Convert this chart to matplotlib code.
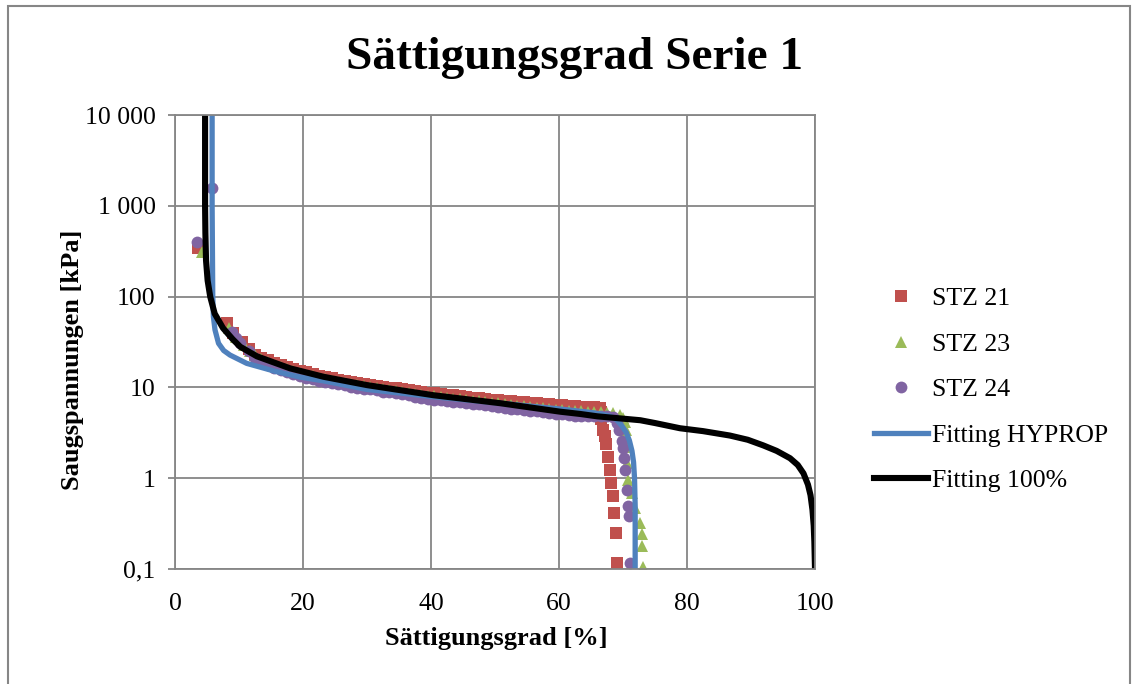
import matplotlib.pyplot as plt
from matplotlib.patches import Rectangle

plt.rcParams['font.family'] = ['Liberation Serif', 'DejaVu Serif']

# measured points: saturation [%] vs suction [kPa]
stz21_s = [3.6, 8.1, 9.1, 10.4, 11.5,
           12.5, 13.5, 14.5, 15.5, 16.5, 17.5, 18.5, 19.5, 20.5, 21.5, 22.5,
           23.5, 24.5, 25.5, 26.5, 27.5, 28.5, 29.5, 30.5, 31.5, 32.5, 33.5,
           34.5, 35.5, 36.5, 37.5, 38.5, 39.5, 40.5, 41.5, 42.5, 43.5, 44.5,
           45.5, 46.5, 47.5, 48.5, 49.5, 50.5, 51.5, 52.5, 53.5, 54.5, 55.5,
           56.5, 57.5, 58.5, 59.5, 60.5, 61.5, 62.5, 63.5, 64.5, 65.5, 66.4,
           66.5, 66.6, 66.9, 67.2, 67.4, 67.7, 68.0, 68.2, 68.5, 68.6, 68.9, 69.1]
stz21_p = [343, 50.8, 39.5, 31.8, 26.8,
           23.0, 21.2, 19.8, 18.6, 17.6, 16.7, 15.9, 15.2, 14.6, 14.0, 13.5,
           13.0, 12.6, 12.2, 11.8, 11.5, 11.2, 10.9, 10.6, 10.4, 10.2, 9.95,
           9.75, 9.55, 9.35, 9.15, 8.95, 8.75, 8.6, 8.45, 8.3, 8.15, 8.0,
           7.85, 7.7, 7.55, 7.45, 7.35, 7.25, 7.15, 7.05, 6.95, 6.85, 6.75,
           6.65, 6.55, 6.5, 6.4, 6.35, 6.3, 6.2, 6.15, 6.1, 6.05, 6.0,
           5.4, 4.5, 3.4, 2.9, 2.4, 1.7, 1.23, 0.88, 0.63, 0.41, 0.25, 0.115]

stz23_s = [4.2, 8.5, 9.5, 10.8, 11.7,
           12.5, 13.5, 14.5, 15.5, 16.5, 17.5, 18.5, 19.5, 20.5, 21.5, 22.5,
           23.5, 24.5, 25.5, 26.5, 27.5, 28.5, 29.5, 30.5, 31.5, 32.5, 33.5,
           34.5, 35.5, 36.5, 37.5, 38.5, 39.5, 40.5, 41.5, 42.5, 43.5, 44.5,
           45.5, 46.5, 47.5, 48.5, 49.5, 50.5, 51.5, 52.5, 53.5, 54.5, 55.5,
           56.5, 57.5, 58.5, 59.5, 60.5, 61.5, 62.5, 63.5, 64.5, 65.5, 66.5,
           67.5, 68.5, 69.5, 70.0, 70.3, 70.5, 70.8, 70.6, 70.8, 71.4, 71.9,
           72.7, 72.9, 73.0, 73.2]
stz23_p = [310, 45, 36, 29, 25,
           22.5, 20.8, 19.0, 17.8, 16.8, 15.9, 15.1, 14.3, 13.7, 13.2, 12.7,
           12.3, 11.9, 11.5, 11.2, 10.9, 10.6, 10.3, 10.1, 9.85, 9.6, 9.4,
           9.2, 9.0, 8.75, 8.5, 8.3, 8.1, 7.95, 7.8, 7.65, 7.5, 7.4,
           7.3, 7.15, 7.0, 6.85, 6.75, 6.65, 6.5, 6.4, 6.3, 6.2, 6.1,
           6.0, 5.9, 5.8, 5.7, 5.6, 5.55, 5.5, 5.45, 5.4, 5.35, 5.3,
           5.25, 5.2, 5.0, 4.6, 4.2, 3.4, 2.2, 1.46, 0.95, 0.68, 0.47,
           0.32, 0.24, 0.18, 0.106]

stz24_s = [3.5, 5.8, 8.9, 9.5, 10.2, 11.5,
           12.5, 13.5, 14.5, 15.5, 16.5, 17.5, 18.5, 19.5, 20.5, 21.5, 22.5,
           23.5, 24.5, 25.5, 26.5, 27.5, 28.5, 29.5, 30.5, 31.5, 32.5, 33.5,
           34.5, 35.5, 36.5, 37.5, 38.5, 39.5, 40.5, 41.5, 42.5, 43.5, 44.5,
           45.5, 46.5, 47.5, 48.5, 49.5, 50.5, 51.5, 52.5, 53.5, 54.5, 55.5,
           56.5, 57.5, 58.5, 59.5, 60.5, 61.5, 62.5, 63.5, 64.5, 65.5, 66.5,
           67.5, 68.5, 69.0, 69.3, 69.8, 70.0, 70.2, 70.3, 70.6, 70.8, 71.0, 71.1]
stz24_p = [400, 1570, 41, 35, 31, 25,
           21.0, 19.5, 17.6, 16.5, 15.6, 14.8, 14.0, 13.3, 12.8, 12.3, 11.9,
           11.5, 11.2, 10.8, 10.5, 10.2, 9.95, 9.7, 9.5, 9.25, 9.0, 8.8,
           8.6, 8.4, 8.15, 7.9, 7.7, 7.5, 7.35, 7.2, 7.1, 6.95, 6.85,
           6.75, 6.6, 6.5, 6.35, 6.2, 6.1, 5.95, 5.85, 5.75, 5.65, 5.55,
           5.45, 5.35, 5.25, 5.15, 5.05, 4.95, 4.9, 4.85, 4.8, 4.8, 4.8,
           4.8, 4.75, 4.1, 3.4, 2.6, 2.14, 1.66, 1.23, 0.74, 0.49, 0.38, 0.115]

# fitted retention curves
hyprop_s = [5.8, 5.8, 5.9, 6.0, 6.25, 6.8, 7.6, 8.6, 11.2, 15.4, 19.5, 23.2,
            30.0, 40.3, 50.8, 60.0, 65.0, 66.5, 68.0, 69.0, 69.8, 70.5, 71.0,
            71.4, 71.65, 71.8, 71.9, 71.9]
hyprop_p = [10000, 1000, 100, 60, 43, 30.6, 25.5, 22.7, 18.4, 15.2, 13.0, 11.8,
            9.5, 7.9, 6.7, 5.8, 5.3, 5.1, 4.8, 4.4, 3.8, 3.2, 2.6,
            2.0, 1.5, 1.0, 0.5, 0.1]

fit100_s = [4.7, 4.7, 4.75, 4.85, 5.1, 5.5, 6.2, 7.5, 9.0, 10.2, 12.8, 18.0,
            23.2, 30.0, 40.4, 50.8, 60.2, 63.3, 66.0, 72.7, 75.0, 78.9, 82.5,
            86.7, 89.5, 91.9, 94.0, 96.1, 97.3, 98.2, 98.9, 99.3, 99.6, 99.8,
            99.9, 100.0]
fit100_p = [10000, 1000, 500, 250, 150, 100, 65, 45, 34, 28, 22.0, 16.2,
            13.1, 10.6, 8.2, 6.7, 5.4, 5.1, 4.8, 4.35, 4.05, 3.55, 3.3,
            2.95, 2.65, 2.3, 2.0, 1.66, 1.4, 1.13, 0.85, 0.65, 0.45, 0.3,
            0.2, 0.1]

yticks = [0.1, 1, 10, 100, 1000, 10000]
ylabels = ['0,1', '1', '10', '100', '1 000', '10 000']

W, H = 1135, 684
fig = plt.figure(figsize=(W / 100, H / 100), dpi=100)
ax = fig.add_axes([175 / W, 1 - 569 / H, 640 / W, 454 / H])

grey = '#868686'
ax.plot(stz21_s, stz21_p, 's', color='#C0504D', ms=8.5, mew=0, label='STZ 21')
ax.plot(stz23_s, stz23_p, '^', color='#9BBB59', ms=9, mew=0, label='STZ 23')
ax.plot(stz24_s, stz24_p, 'o', color='#8064A2', ms=8.5, mew=0, label='STZ 24')
ax.plot(hyprop_s, hyprop_p, color='#4F81BD', lw=3.8, label='Fitting HYPROP')
ax.plot(fit100_s, fit100_p, color='black', lw=4.4, label='Fitting 100%')

ax.set_yscale('log')
ax.set_xlim(0, 100)
ax.set_ylim(0.1, 10000)
ax.set_xticks([0, 20, 40, 60, 80, 100])
ax.set_yticks(yticks, ylabels)
ax.minorticks_off()
ax.grid(True, color=grey, lw=1.3)
ax.set_axisbelow(True)
for sp in ax.spines.values():
    sp.set_color(grey)
    sp.set_linewidth(1.3)
ax.tick_params(axis='y', length=5, width=1.3, color=grey, labelsize=18.5, pad=9)
ax.tick_params(axis='x', length=0, labelsize=18.5, pad=17)

fig.text(575 / W, 1 - 58 / H, 'Sättigungsgrad Serie 1', ha='center', va='center',
         fontsize=34, fontweight='bold')
fig.text(496 / W, 1 - 638 / H, 'Sättigungsgrad [%]', ha='center', va='center',
         fontsize=19, fontweight='bold')
fig.text(73 / W, 1 - 360 / H, 'Saugspannungen [kPa]', ha='center', va='center',
         rotation=90, fontsize=19, fontweight='bold')

ax.legend(loc='upper left', bbox_to_anchor=(874 / W, 1 - 287 / H),
          bbox_transform=fig.transFigure, frameon=False, fontsize=18.5,
          handlelength=2.1, handletextpad=0.15, labelspacing=0.88,
          borderpad=0, borderaxespad=0, numpoints=1)

# outer chart border
fig.patches.append(Rectangle((8 / W, -0.05), 1122 / W, 1.05 - 6 / H,
                             transform=fig.transFigure, fill=False,
                             edgecolor=grey, lw=1.5))

fig.savefig('out.png', dpi=100)
